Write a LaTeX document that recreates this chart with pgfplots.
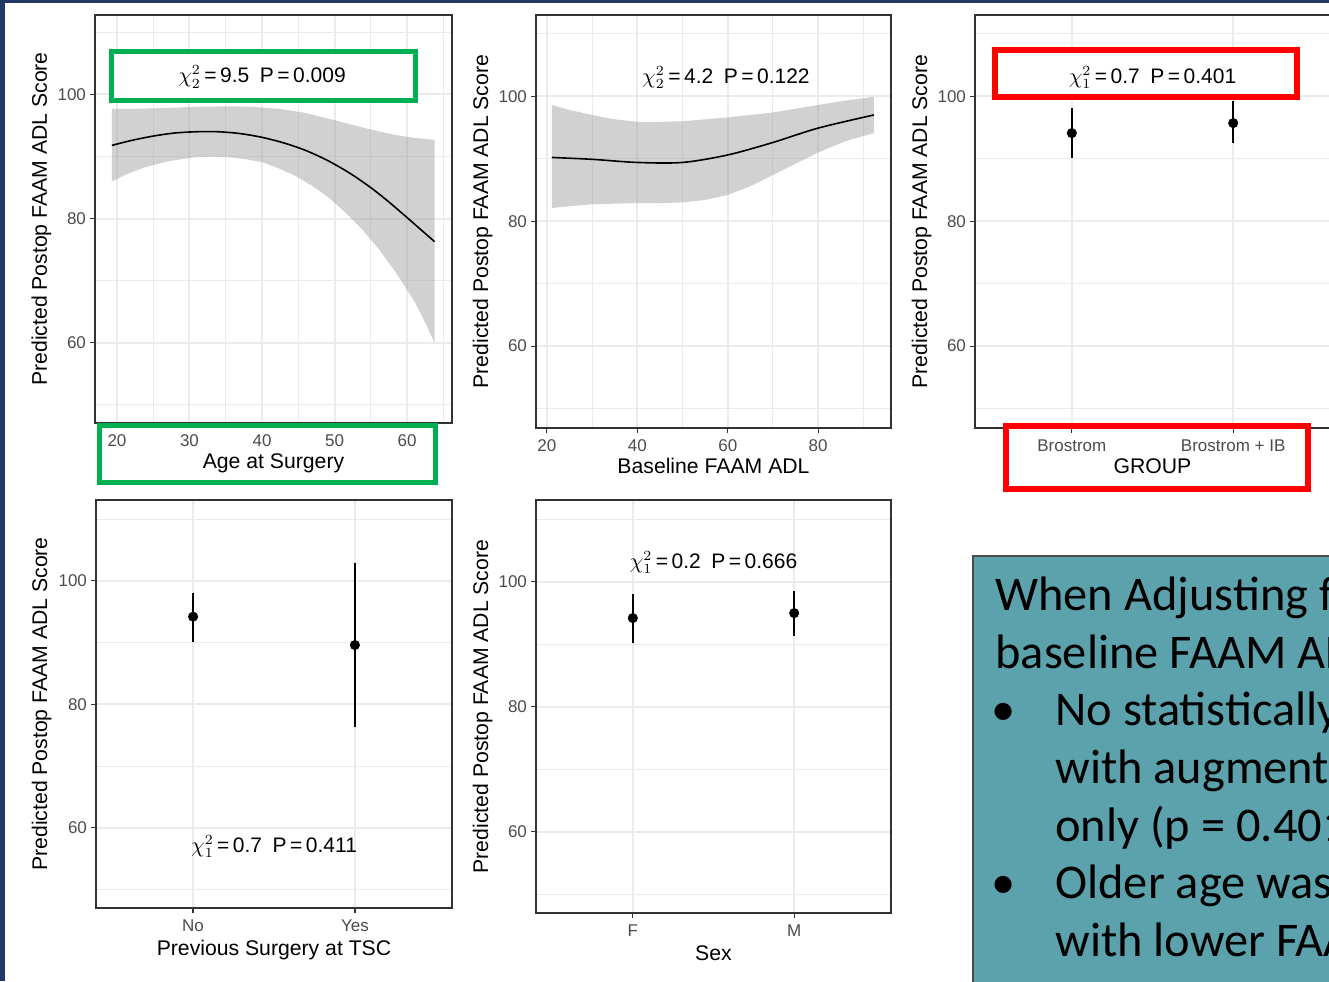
\documentclass[border=0pt]{standalone}
\usepackage{pgfplots}
\pgfplotsset{compat=1.18}
\usepackage{fontspec}
\setmainfont{Liberation Sans}
\newfontfamily\calibri{Carlito}

\definecolor{navy}{RGB}{35,57,99}
\definecolor{boxteal}{RGB}{91,162,173}
\definecolor{gg20}{gray}{0.2}
\definecolor{gg30}{gray}{0.3}
\definecolor{gg92}{gray}{0.92}
\definecolor{ribbon}{gray}{0.6}
\definecolor{hlgreen}{RGB}{0,176,80}
\definecolor{hlred}{RGB}{255,0,0}

\pgfplotsset{
  ggbw/.style 2 args={
    scale only axis, anchor=south west,
    axis line style={draw=gg20, line width=0.7pt},
    xtick pos=bottom, ytick pos=left, tick align=outside,
    major tick length=2.5pt, minor tick length=0pt,
    tick style={draw=gg20, line width=0.6pt},
    grid=both,
    major grid style={draw=gg92, line width=1pt},
    minor grid style={draw=gg92, line width=0.5pt},
    ytick={60,80,100}, minor ytick={50,70,90,110},
    ticklabel style={font=\fontsize{8.5}{10}\selectfont, text=gg30},
    yticklabel style={xshift=1.5pt},
    /pgf/number format/assume math mode=true,
    ylabel={Predicted Postop FAAM ADL Score},
    every axis y label/.style={at={(axis description cs:-#1,0.5)}, rotate=90, anchor=base,
      font=\fontsize{10.6}{13}\selectfont},
    every axis x label/.style={at={(axis description cs:0.5,-#2)}, anchor=base,
      font=\fontsize{10.6}{13}\selectfont},
  },
  catx/.style={xmin=0.4, xmax=2.6, xtick={1,2}, minor xtick={}},
  pointrange/.style={only marks, mark=*, mark size=2.3pt, black,
    error bars/.cd, y dir=both, y explicit, error mark=none,
    error bar style={line width=1.3pt, black}},
  band/.style={fill=ribbon, fill opacity=0.45, draw=none},
}
\newcommand\chitext[3]{$\chi^2_{#1}$\,=\,#2\enspace P\,=\,#3}

\begin{document}
\begin{tikzpicture}
\begin{scope}
\clip (0,0) rectangle (664.5pt,490.5pt);
\fill[navy] (0,0) rectangle (664.5pt,490.5pt);
\fill[white] (2.5pt,0) rectangle (664.5pt,489pt);

% age at surgery
\begin{axis}[ggbw={0.1345}{0.1103}, at={(47.5pt,279pt)}, width=178.5pt, height=204pt,
  xmin=16.97, xmax=66.2, ymin=47.1, ymax=112.8,
  xtick={20,30,40,50,60}, minor xtick={25,35,45,55,65},
  xlabel={Age at Surgery}]
% confidence band: upper edge left to right, then lower edge right to left
\addplot[band] coordinates {
  (19.3,97.7) (22.7,97.7) (26.2,97.8) (30.8,98.0) (35.4,98.1) (38.8,98.0) (42.3,97.7)
  (45.7,97.1) (49.2,96.1) (51.5,95.4) (53.8,94.7) (56.0,94.1) (58.3,93.5) (61.0,93.0) (63.8,92.7)
  (63.8,60.0) (62.5,63.3) (61.1,66.5) (59.7,69.1) (58.3,71.6) (56.1,75.1) (53.8,78.3) (51.5,81.0)
  (49.2,83.4) (46.9,85.3) (44.6,86.9) (42.3,88.1) (40.0,89.1) (37.7,89.6) (35.4,89.9) (33.1,90.0)
  (30.8,89.9) (27.3,89.3) (23.9,88.3) (21.6,87.3) (19.3,86.0)};
\addplot[black, line width=0.8pt, smooth] coordinates {
  (19.3,91.8) (22,92.6) (25,93.3) (28,93.8) (31,94.0) (34,94.0) (37,93.7) (40,93.1)
  (43,92.2) (46,91.0) (49,89.4) (52,87.4) (55,85.0) (58,82.2) (63.8,76.3)};
\coordinate (t1) at (axis cs:40,101.9);
\end{axis}

% baseline FAAM ADL
\begin{axis}[ggbw={0.1352}{0.109}, at={(268pt,276.5pt)}, width=177.5pt, height=206.5pt,
  xmin=17.6, xmax=96.1, ymin=46.9, ymax=113.0,
  xtick={20,40,60,80}, minor xtick={30,50,70,90},
  xlabel={Baseline FAAM ADL}]
\addplot[band] coordinates {
  (21.1,98.6) (25,97.8) (30,97.0) (35,96.3) (40,95.9) (45,95.9) (50,96.0) (55,96.3) (60,96.6)
  (65,97.0) (70,97.4) (75,98.0) (80,98.6) (86,99.3) (92.3,99.9)
  (92.3,94.1) (86,92.8) (80,91.0) (75,89.2) (70,87.4) (65,85.6) (60,84.2) (55,83.4) (50,83.0)
  (45,82.9) (40,82.9) (35,82.8) (30,82.7) (25,82.4) (21.1,82.1)};
\addplot[black, line width=0.8pt, smooth] coordinates {
  (21.1,90.2) (30,89.9) (40,89.4) (50,89.4) (60,90.6) (70,92.6) (80,94.9) (92.3,97.0)};
\coordinate (t2) at (axis cs:59.6,102.1);
\end{axis}

% group
\begin{axis}[ggbw={0.1352}{0.109}, catx, at={(487.5pt,276.5pt)}, width=177.5pt, height=206.5pt,
  ymin=46.9, ymax=113.0, xticklabels={Brostrom, Brostrom + IB}, xlabel={GROUP}]
\addplot[pointrange] coordinates {
  (1,94.1) += (0,4.0) -= (0,4.0)
  (2,95.7) += (0,3.6) -= (0,3.2)};
\coordinate (t3) at (axis cs:1.5,102.1);
\end{axis}

% previous surgery
\begin{axis}[ggbw={0.1376}{0.1152}, catx, at={(48pt,36.5pt)}, width=178pt, height=204pt,
  ymin=47.0, ymax=113.1, xticklabels={No, Yes}, xlabel={Previous Surgery at TSC}]
\addplot[pointrange] coordinates {
  (1,94.2) += (0,3.9) -= (0,4.1)
  (2,89.6) += (0,13.3) -= (0,13.2)};
\node[anchor=base, font=\fontsize{10.5}{12}\selectfont] at (axis cs:1.5,56.0) {\chitext{1}{0.7}{0.411}};
\end{axis}

% sex
\begin{axis}[ggbw={0.1352}{0.1138}, catx, at={(268pt,34pt)}, width=177.5pt, height=206.5pt,
  ymin=47.0, ymax=113.1, xticklabels={F, M}, xlabel={Sex}]
\addplot[pointrange] coordinates {
  (1,94.2) += (0,3.9) -= (0,4.0)
  (2,95.0) += (0,3.6) -= (0,3.6)};
\node[anchor=base, font=\fontsize{10.5}{12}\selectfont] at (axis cs:1.5,102.2) {\chitext{1}{0.2}{0.666}};
\end{axis}

% highlight boxes
\filldraw[draw=hlgreen, fill=white, line width=2.5pt] (55.75pt,440.25pt) rectangle (207.75pt,464.75pt);
\draw[draw=hlgreen, line width=2.5pt] (49.75pt,249.25pt) rectangle (217.75pt,277.75pt);
\filldraw[draw=hlred, fill=white, line width=3pt] (497.5pt,442pt) rectangle (648.5pt,465.5pt);
\draw[draw=hlred, line width=3pt] (503pt,246pt) rectangle (654pt,277.5pt);

\begin{scope}[every node/.style={anchor=base, font=\fontsize{10.5}{12}\selectfont}]
\node at (t1) {\chitext{2}{9.5}{0.009}};
\node at (t2) {\chitext{2}{4.2}{0.122}};
\node at (t3) {\chitext{1}{0.7}{0.401}};
\end{scope}

% summary box
\filldraw[fill=boxteal, draw=gray!60!black, line width=0.6pt] (486.5pt,-3pt) rectangle (668pt,212.5pt);
\begin{scope}[every node/.style={anchor=base west, inner sep=0pt, font=\calibri\fontsize{24.2}{29}\selectfont}]
\node at (497.5pt,185pt) {When Adjusting for};
\node at (497.5pt,156.25pt) {baseline FAAM ADL:};
\node at (495.5pt,127.5pt) {•};
\node at (527.5pt,127.5pt) {No statistically significant};
\node at (527.5pt,98.75pt) {with augmentation vs. Brostrom};
\node at (527.5pt,70pt) {only (p = 0.401)};
\node at (495.5pt,41.25pt) {•};
\node at (527.5pt,41.25pt) {Older age was associated};
\node at (527.5pt,12.5pt) {with lower FAAM ADL};
\end{scope}
\end{scope}
\pgfresetboundingbox
\path[use as bounding box] (0,0) rectangle (664.5pt,490.5pt);
\end{tikzpicture}
\end{document}
